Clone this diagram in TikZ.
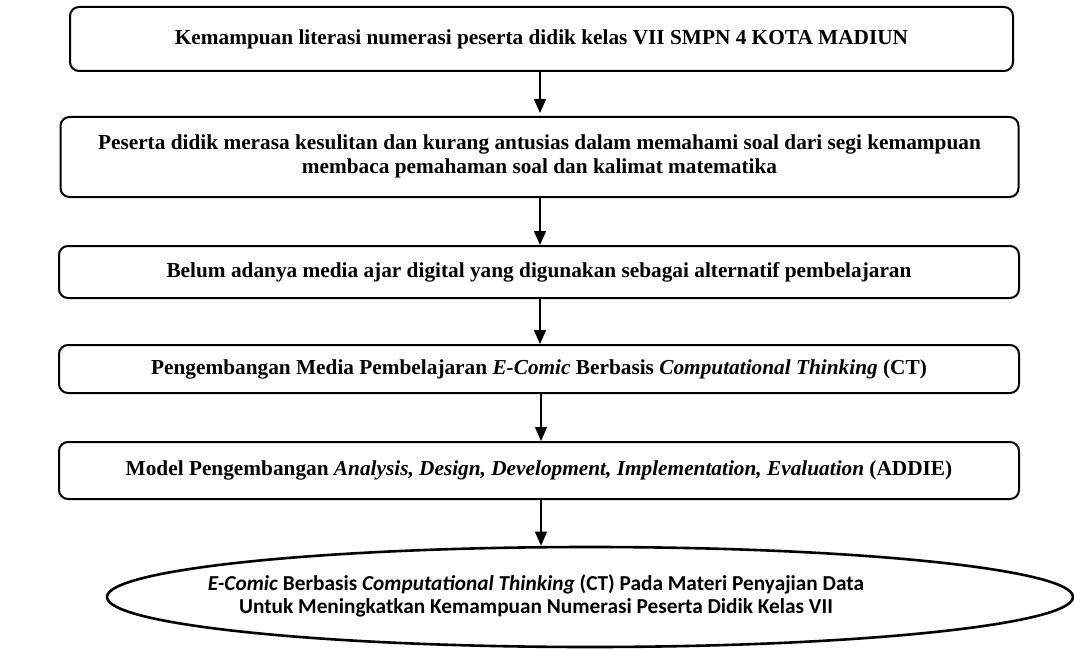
\documentclass[tikz,border=0pt]{standalone}
\usepackage{fontspec}
\setmainfont{Liberation Serif}
\newfontfamily\calfont{Carlito}
\usetikzlibrary{arrows.meta,shapes.geometric}
\begin{document}
\begin{tikzpicture}[x=1pt,y=-1pt,
  flowbox/.style={draw,line width=2pt,rounded corners=9pt,inner sep=0pt,
    align=center,font=\fontsize{21.3}{24}\selectfont\bfseries},
  flowarrow/.style={line width=1.3pt,-{Triangle[length=14pt,width=12pt]}},
  endshape/.style={draw,ellipse,line width=2.6pt,inner sep=0pt},
  endtext/.style={align=center,inner sep=0pt,font=\fontsize{21.3}{23}\selectfont\calfont\bfseries}]
\useasboundingbox (0,0) rectangle (1074,650);
\node[flowbox,minimum width=943pt,minimum height=64pt] (b1) at (541.5,39)
  {Kemampuan literasi numerasi peserta didik kelas VII SMPN 4 KOTA MADIUN};
\node[flowbox,minimum width=958pt,minimum height=80pt] (b2) at (539.5,157)
  {Peserta didik merasa kesulitan dan kurang antusias dalam memahami soal dari segi kemampuan\\
   membaca pemahaman soal dan kalimat matematika\rule[-6pt]{0pt}{0pt}};
\node[flowbox,minimum width=960pt,minimum height=52pt] (b3) at (539,272)
  {Belum adanya media ajar digital yang digunakan sebagai alternatif pembelajaran};
\node[flowbox,minimum width=960pt,minimum height=48pt] (b4) at (539,369)
  {Pengembangan Media Pembelajaran \textit{E-Comic} Berbasis \textit{Computational Thinking} (CT)};
\node[flowbox,minimum width=960pt,minimum height=57pt] (b5) at (539,470.5)
  {Model Pengembangan \textit{Analysis, Design, Development, Implementation, Evaluation} (ADDIE)};
\node[endshape,minimum width=966pt,minimum height=100pt] (ell) at (590,597) {};
\node[endtext] (elltext) at (536,596)
  {\textit{E-Comic} Berbasis \textit{Computational Thinking} (CT) Pada Materi Penyajian Data\\
   Untuk Meningkatkan Kemampuan Numerasi Peserta Didik Kelas VII};
\draw[flowarrow] (b1.south -| 540,0) -- (540,113) coordinate (a1);
\draw[flowarrow] (b2.south -| 540,0) -- (b3.north -| 540,0);
\draw[flowarrow] (b3.south -| 540,0) -- (b4.north -| 540,0);
\draw[flowarrow] (b4.south -| 541,0) -- (b5.north -| 541,0);
\draw[flowarrow] (b5.south -| 541,0) -- (ell.north -| 541,0);
\end{tikzpicture}
\end{document}
